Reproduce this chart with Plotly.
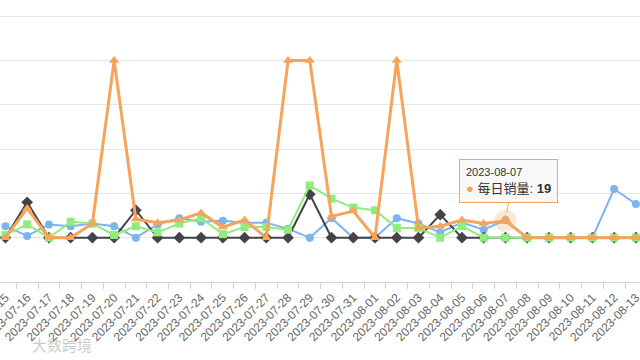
import plotly.graph_objects as go

dates = ["2023-07-15", "2023-07-16", "2023-07-17", "2023-07-18", "2023-07-19", "2023-07-20",
         "2023-07-21", "2023-07-22", "2023-07-23", "2023-07-24", "2023-07-25", "2023-07-26",
         "2023-07-27", "2023-07-28", "2023-07-29", "2023-07-30", "2023-07-31", "2023-08-01",
         "2023-08-02", "2023-08-03", "2023-08-04", "2023-08-05", "2023-08-06", "2023-08-07",
         "2023-08-08", "2023-08-09", "2023-08-10", "2023-08-11", "2023-08-12", "2023-08-13"]

blue_vals = [13, 2, 15, 13, 16, 13, 0, 15, 22, 18, 19, 17, 17, 10, 0, 22, 0, 0, 22, 16,
             6, 17, 9, 20, 0, 0, 0, 0, 55, 38]
black_vals = [0, 40, 0, 0, 0, 0, 31, 0, 0, 0, 0, 0, 0, 0, 49, 0, 0, 0, 0, 0,
              26, 0, 0, 0, 0, 0, 0, 0, 0, 0]
green_vals = [3, 15, 0, 18, 16, 3, 13, 6, 16, 22, 4, 12, 12, 9, 59, 44, 34, 31, 11, 11,
              0, 13, 0, 0, 0, 0, 0, 0, 0, 0]
orange_vals = [0, 33, 0, 0, 16, 200, 21, 17, 20, 28, 12, 20, 0, 200, 200, 24, 30, 0, 200, 11,
               13, 20, 16, 19, 0, 0, 0, 0, 0, 0]

series_name = "每日销量"
hover_index = 23

fig = go.Figure()

styles = [
    (blue_vals, "#7cb5ec", "circle", 8, 2),
    (black_vals, "#434348", "diamond", 9, 2),
    (green_vals, "#90ed7d", "square", 8, 2),
    (orange_vals, "#f7a35c", "triangle-up", 9, 3),
]
for vals, col, sym, msize, lw in styles:
    fig.add_trace(go.Scatter(
        x=dates, y=vals, mode="lines+markers",
        line=dict(color=col, width=lw),
        marker=dict(color=col, symbol=sym, size=msize, line=dict(width=0)),
        showlegend=False, hoverinfo="skip"))

# hover halo + enlarged hovered marker
fig.add_trace(go.Scatter(
    x=[dates[hover_index]], y=[orange_vals[hover_index]], mode="markers",
    marker=dict(color="rgba(247,163,92,0.25)", size=22, symbol="circle"),
    showlegend=False, hoverinfo="skip"))
fig.add_trace(go.Scatter(
    x=[dates[hover_index]], y=[orange_vals[hover_index]], mode="markers",
    marker=dict(color="#f7a35c", size=12, symbol="triangle-up"),
    showlegend=False, hoverinfo="skip"))

tip_text = (f"<span style='font-size:11px'>{dates[hover_index]}</span><br>"
            f"<span style='color:#f7a35c'>●</span> {series_name}: <b>{orange_vals[hover_index]}</b>")
fig.add_annotation(
    x=dates[hover_index], y=orange_vals[hover_index], xref="x", yref="y",
    text=tip_text, showarrow=True, arrowhead=0, arrowwidth=1, arrowcolor="#f7a35c",
    ax=3, ay=-18, xanchor="center", yanchor="bottom", standoff=9,
    align="left", bgcolor="rgba(247,247,247,0.9)", bordercolor="#f7a35c",
    borderwidth=1, borderpad=6,
    font=dict(family="Liberation Sans, Noto Sans CJK SC", size=13, color="#333333"))

# watermark
fig.add_annotation(
    x=30 / 640, y=-0.265, xref="paper", yref="paper", text="大数跨境", showarrow=False,
    xanchor="left", yanchor="bottom",
    font=dict(family="Noto Sans CJK SC", size=15, color="rgba(170,170,170,0.6)"))

fig.update_layout(
    width=640, height=360,
    margin=dict(l=0, r=0, t=0, b=78),
    paper_bgcolor="white", plot_bgcolor="white",
    font=dict(family="Liberation Sans, Noto Sans CJK SC"),
    xaxis=dict(type="category", categoryorder="array", categoryarray=dates,
               range=[-0.25, 29.19], tickson="boundaries", ticks="outside",
               ticklen=6, tickcolor="#ccd6eb", showline=True, linecolor="#ccd6eb",
               showgrid=False, tickangle=-45, automargin=False, ticklabelstandoff=3,
               tickfont=dict(size=12, color="#666666")),
    yaxis=dict(range=[-50, 268.3], dtick=50, tick0=0, showticklabels=False,
               gridcolor="#e6e6e6", gridwidth=1, zeroline=False, showline=False,
               automargin=False),
)

fig.write_html("out.html",
               config={"displayModeBar": False},
               post_script="document.body.style.margin='0';document.body.style.overflow='hidden';")
